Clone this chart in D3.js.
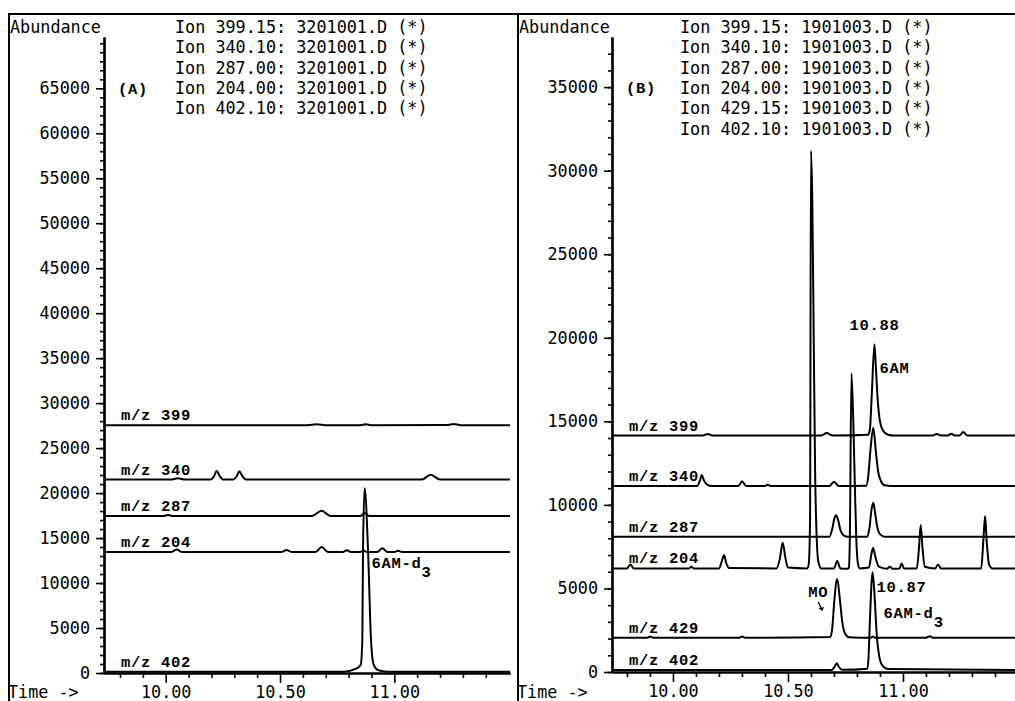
<!DOCTYPE html>
<html>
<head>
<meta charset="utf-8">
<script src="https://cdn.jsdelivr.net/npm/d3@7/dist/d3.min.js"></script>
<style>
  body { margin: 0; background: #fff; }
  svg { display: block; }
  .mono { font-family: "DejaVu Sans Mono", monospace; font-size: 16.8px; fill: #000; }
  .tag  { font-family: "Liberation Mono", "DejaVu Sans Mono", monospace; font-weight: bold;
          font-size: 15.5px; letter-spacing: 0.7px; fill: #000; }
</style>
</head>
<body>
<svg id="chart" width="1015" height="701"></svg>
<script>
// ---------- data: extracted ion chromatograms, [retention time (min), abundance] ----------

// Run (A): 3201001.D
const ionsA = ["399.15", "340.10", "287.00", "204.00", "402.10"];
const fileA = "3201001.D";

const a399 = [[9.73,27550],[10.62,27550],[10.66,27640],[10.70,27550],[10.85,27550],[10.875,27650],
  [10.90,27550],[11.23,27560],[11.26,27680],[11.29,27550],[11.506,27550]];
const a340 = [[9.73,21500],[10.02,21500],[10.054,21650],[10.085,21500],[10.195,21500],[10.212,21900],
  [10.223,22460],[10.236,21900],[10.252,21500],[10.294,21500],[10.311,21900],[10.322,22420],[10.335,21900],
  [10.352,21500],[11.12,21500],[11.159,22050],[11.20,21500],[11.506,21500]];
const a287 = [[9.73,17450],[9.99,17450],[10.01,17560],[10.03,17450],[10.64,17450],[10.682,18050],
  [10.72,17450],[10.85,17450],[10.872,17800],[10.89,17450],[11.506,17450]];
const a204 = [[9.73,13450],[10.025,13450],[10.048,13720],[10.07,13450],[10.505,13450],[10.529,13670],
  [10.55,13450],[10.655,13450],[10.682,14000],[10.71,13450],[10.775,13450],[10.792,13650],[10.81,13450],
  [10.85,13450],[10.866,13620],[10.88,13450],[10.925,13450],[10.948,13880],[10.97,13450],[11.0,13450],
  [11.016,13600],[11.035,13450],[11.506,13450]];
const a402 = [[9.73,150],[10.78,150],[10.83,450],[10.853,900],[10.860,3670],[10.863,13670],[10.870,20550],
  [10.885,13670],[10.898,3670],[10.91,900],[10.93,300],[10.97,150],[11.506,150]];

// Run (B): 1901003.D
const ionsB = ["399.15", "340.10", "287.00", "204.00", "429.15", "402.10"];
const fileB = "1901003.D";

const b399 = [[9.735,14150],[10.13,14150],[10.152,14250],[10.17,14150],[10.645,14150],[10.668,14300],
  [10.695,14150],[10.848,14200],[10.856,14500],[10.864,16500],[10.876,19620],[10.882,18300],[10.890,16300],
  [10.90,15000],[10.913,14450],[10.935,14200],[10.96,14150],[11.13,14150],[11.147,14250],[11.165,14150],
  [11.195,14150],[11.21,14260],[11.225,14150],[11.245,14150],[11.262,14360],[11.28,14150],[11.487,14150]];
const b340 = [[9.735,11130],[10.105,11130],[10.118,11500],[10.125,11790],[10.135,11450],[10.15,11200],
  [10.17,11130],[10.285,11130],[10.30,11420],[10.318,11130],[10.40,11130],[10.41,11200],[10.425,11130],
  [10.68,11130],[10.70,11390],[10.72,11130],[10.84,11150],[10.849,11700],[10.858,13200],[10.871,14620],
  [10.882,13200],[10.892,12000],[10.905,11400],[10.92,11170],[10.95,11130],[11.487,11130]];
const b287 = [[9.735,8100],[10.68,8100],[10.693,8600],[10.702,9200],[10.709,9380],[10.718,9100],
  [10.728,8500],[10.742,8180],[10.76,8100],[10.845,8100],[10.855,8700],[10.863,9700],[10.871,10130],
  [10.879,9500],[10.888,8700],[10.90,8250],[10.92,8100],[11.487,8100]];
const b204 = [[9.735,6200],[9.80,6200],[9.815,6440],[9.83,6200],[10.07,6200],[10.08,6300],[10.09,6200],
  [10.20,6200],[10.212,6600],[10.222,7000],[10.232,6500],[10.245,6220],[10.45,6200],[10.465,6800],
  [10.477,7740],[10.488,6900],[10.50,6250],[10.583,6200],[10.590,6400],[10.596,9000],[10.600,31190],
  [10.606,28000],[10.612,20000],[10.618,12000],[10.625,8000],[10.632,6600],[10.645,6200],[10.70,6200],
  [10.714,6640],[10.728,6200],[10.758,6180],[10.765,6250],[10.769,8000],[10.776,17870],[10.784,15000],
  [10.791,11000],[10.797,8000],[10.804,6500],[10.812,6200],[10.852,6250],[10.862,7000],[10.870,7420],
  [10.880,6900],[10.895,6300],[10.93,6180],[10.943,6300],[10.955,6180],[10.985,6200],[10.994,6500],
  [11.005,6200],[11.06,6200],[11.070,7500],[11.077,8790],[11.085,7400],[11.095,6300],[11.14,6200],
  [11.153,6440],[11.165,6200],[11.34,6200],[11.350,8000],[11.357,9330],[11.364,7800],[11.375,6400],
  [11.39,6200],[11.487,6200]];
const b429 = [[9.735,2050],[9.89,2050],[9.90,2130],[9.915,2050],[10.29,2050],[10.30,2130],[10.315,2050],
  [10.685,2100],[10.693,2700],[10.700,4000],[10.714,5565],[10.726,4300],[10.736,3000],[10.748,2300],
  [10.765,2080],[10.86,2050],[10.868,2130],[10.88,2050],[11.10,2050],[11.117,2140],[11.13,2050],[11.487,2050]];
const b402 = [[9.735,120],[10.69,120],[10.702,300],[10.712,520],[10.722,300],[10.735,130],[10.845,200],
  [10.850,800],[10.856,3000],[10.868,5966],[10.878,4200],[10.886,2200],[10.896,1000],[10.91,400],
  [10.935,180],[11.487,120]];

// time axis: labelled and minor tick values (min)
const timeMajor = [10.00, 10.50, 11.00];
const timeMinor = [9.8, 9.9, 10.1, 10.2, 10.3, 10.4, 10.6, 10.7, 10.8, 10.9, 11.1, 11.2, 11.3, 11.4];

// ---------- drawing ----------
const svg = d3.select("#chart");
const fmtTime = d3.format(".2f");

// outer frame: common top rule and the left edge of each run
svg.append("line").attr("x1", 8).attr("x2", 1015).attr("y1", 14).attr("y2", 14)
  .attr("stroke", "#000").attr("stroke-width", 2);

function panel(o) {
  const g = svg.append("g");
  const x = o.x, y = o.y;
  const x0 = x.range()[0];

  g.append("line").attr("x1", o.frameX).attr("x2", o.frameX).attr("y1", 14).attr("y2", 701)
    .attr("stroke", "#000").attr("stroke-width", 2);

  g.append("text").attr("class", "mono").attr("x", o.frameX + 1).attr("y", 33).text("Abundance");
  g.append("text").attr("class", "mono").attr("x", o.frameX - 1).attr("y", 698).text("Time ->");

  // header: one row per monitored ion
  o.ions.forEach((ion, i) => {
    g.append("text").attr("class", "mono").attr("x", o.headX).attr("y", 33 + i * 20.3)
      .attr("xml:space", "preserve").text(`Ion ${ion}: ${o.file} (*)`);
  });
  g.append("text").attr("class", "tag").attr("x", x0 + 14).attr("y", y(o.panelTagAt) + 6).text(o.tag);

  // y axis: minor ticks every 1000, labelled every 5000
  const yMinor = g.append("g").attr("transform", `translate(${x0},0)`)
    .call(d3.axisLeft(y).tickValues(d3.range(0, o.yMinorMax + 1, 1000)).tickSize(4)
      .tickFormat("").tickSizeOuter(0));
  const yMajor = g.append("g").attr("transform", `translate(${x0},0)`)
    .call(d3.axisLeft(y).tickValues(d3.range(0, o.yMajorMax + 1, 5000)).tickSize(8)
      .tickPadding(6).tickFormat(d3.format("d")).tickSizeOuter(0));

  // x axis
  const xb = y.range()[0];
  const xMinor = g.append("g").attr("transform", `translate(0,${xb})`)
    .call(d3.axisBottom(x).tickValues(timeMinor).tickSize(5).tickFormat("").tickSizeOuter(0));
  const xMajor = g.append("g").attr("transform", `translate(0,${xb})`)
    .call(d3.axisBottom(x).tickValues(timeMajor).tickSize(10).tickPadding(3)
      .tickFormat(fmtTime).tickSizeOuter(0));

  [yMinor, yMajor, xMinor, xMajor].forEach(a => {
    a.attr("font-family", null).attr("font-size", null);
    a.selectAll("path.domain").attr("stroke", "#000").attr("stroke-width", 2.2);
    a.selectAll(".tick line").attr("stroke", "#000").attr("stroke-width", 1.6);
    a.selectAll(".tick text").attr("class", "mono").attr("fill", "#000");
  });

  // traces
  const clipId = "clip" + o.tag.replace(/\W/g, "");
  svg.append("clipPath").attr("id", clipId).append("rect")
    .attr("x", x0).attr("y", 20).attr("width", x.range()[1] - x0).attr("height", xb - 20 + 2);
  const line = d3.line().x(d => x(d[0])).y(d => y(d[1])).curve(d3.curveMonotoneX);
  const tg = g.append("g").attr("clip-path", `url(#${clipId})`);
  o.traces.forEach(t => {
    tg.append("path").attr("d", line(t.data)).attr("fill", "none")
      .attr("stroke", "#000").attr("stroke-width", 2).attr("stroke-linejoin", "round");
  });
  o.traces.forEach(t => {
    g.append("text").attr("class", "tag").attr("x", x0 + 17).attr("y", y(t.data[0][1]) - 5)
      .attr("xml:space", "preserve").text(`m/z ${t.mz}`);
  });

  return { g, x, y };
}

function apex(data) { return d3.greatest(data, d => d[1]); }

function subLabel(g, px, py, main, sub) {
  const t = g.append("text").attr("class", "tag").attr("x", px).attr("y", py);
  t.append("tspan").text(main);
  t.append("tspan").attr("dy", 9).text(sub);
}

// ---------- (A) ----------
const xA = d3.scaleLinear().domain([9.73, 11.506]).range([104, 510]);
const yA = d3.scaleLinear().domain([0, 70700]).range([673, 37]);
const pA = panel({
  x: xA, y: yA, frameX: 9, headX: 175, ions: ionsA, file: fileA, tag: "(A)", panelTagAt: 65000,
  yMinorMax: 70000, yMajorMax: 65000,
  traces: [
    { mz: "399", data: a399 }, { mz: "340", data: a340 }, { mz: "287", data: a287 },
    { mz: "204", data: a204 }, { mz: "402", data: a402 }
  ]
});
{
  const p = apex(a402);
  subLabel(pA.g, xA(p[0]) + 7, yA(p[1]) + 80, "6AM-d", "3");
}

// ---------- (B) ----------
const xB = d3.scaleLinear().domain([9.735, 11.487]).range([612, 1015]);
const yB = d3.scaleLinear().domain([0, 38000]).range([672, 37]);
const pB = panel({
  x: xB, y: yB, frameX: 518, headX: 680, ions: ionsB, file: fileB, tag: "(B)", panelTagAt: 35000,
  yMinorMax: 37000, yMajorMax: 35000,
  traces: [
    { mz: "399", data: b399 }, { mz: "340", data: b340 }, { mz: "287", data: b287 },
    { mz: "204", data: b204 }, { mz: "429", data: b429 }, { mz: "402", data: b402 }
  ]
});
{
  const g = pB.g;
  // 6-acetylmorphine (m/z 399)
  const p6 = apex(b399);
  g.append("text").attr("class", "tag").attr("text-anchor", "middle")
    .attr("x", xB(p6[0])).attr("y", yB(p6[1]) - 14).text(fmtTime(p6[0]));
  g.append("text").attr("class", "tag").attr("x", xB(p6[0]) + 5).attr("y", yB(p6[1]) + 29).text("6AM");

  // morphine (m/z 429)
  const pm = apex(b429);
  const mx = xB(pm[0]), my = yB(pm[1]);
  g.append("text").attr("class", "tag").attr("text-anchor", "end")
    .attr("x", mx - 9).attr("y", my + 18).text("MO");
  g.append("path").attr("d", `M${mx - 19},${my + 23}L${mx - 15},${my + 31}M${mx - 18},${my + 29}L${mx - 15},${my + 31}L${mx - 14},${my + 28}`)
    .attr("fill", "none").attr("stroke", "#000").attr("stroke-width", 1.3);

  // internal standard (m/z 402)
  const pd = apex(b402);
  const dx = xB(pd[0]), dy = yB(pd[1]);
  g.append("text").attr("class", "tag").attr("x", dx + 4).attr("y", dy + 20).text(fmtTime(pd[0]));
  subLabel(g, dx + 11, dy + 46, "6AM-d", "3");
}
</script>
</body>
</html>
